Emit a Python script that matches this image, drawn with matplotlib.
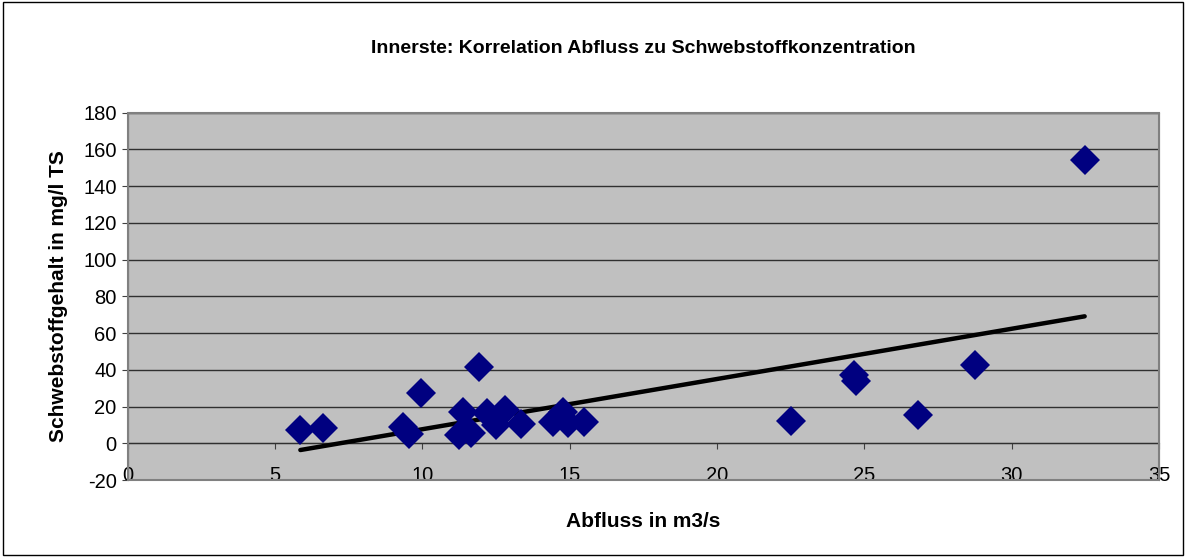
import numpy as np
import matplotlib
matplotlib.use("Agg")
import matplotlib.pyplot as plt
from matplotlib.patches import Rectangle

plt.rcParams['font.family'] = ['Liberation Sans', 'DejaVu Sans']
plt.rcParams['axes.unicode_minus'] = False

# Abfluss (m3/s) und Schwebstoffgehalt (mg/l TS)
abfluss = [5.86, 6.63, 9.35, 9.55, 9.94, 11.92, 11.38, 11.23, 11.66, 12.19, 12.5, 12.79,
           13.36, 14.43, 14.77, 14.94, 15.5, 22.5, 24.65, 24.73, 26.83, 28.75, 32.48]
schwebstoff = [7.2, 8.1, 9.0, 5.0, 27.5, 41.6, 17.2, 4.5, 5.4, 16.3, 9.9, 18.0,
               10.3, 11.4, 17.2, 10.8, 11.4, 12.1, 37.4, 33.8, 15.3, 42.4, 154.1]
xticks = [0, 5, 10, 15, 20, 25, 30, 35]
yticks = [-20, 0, 20, 40, 60, 80, 100, 120, 140, 160, 180]

fig = plt.figure(figsize=(11.88, 5.57), dpi=100)
ax = fig.add_axes([0.1075, 0.1382, 0.868, 0.6595])
ax.set_facecolor('#c0c0c0')

# linear trend
x = np.array(abfluss)
y = np.array(schwebstoff)
m, b = np.polyfit(x, y, 1)
xl = np.array([x.min(), x.max()])
ax.plot(xl, m * xl + b, color='black', lw=3.2, solid_capstyle='round', zorder=3)

ax.plot(x, y, linestyle='none', marker='D', ms=15.5, color='#000080', mec='#000080', mew=0, zorder=4)

ax.set_xlim(0, 35)
ax.set_ylim(-20, 180)
ax.set_xticks(xticks)
ax.set_yticks(yticks)
ax.yaxis.grid(True, color='#303030', lw=1)
ax.set_axisbelow(True)

for s in ['top', 'right']:
    ax.spines[s].set_color('#808080')
ax.spines['left'].set_color('#404040')
ax.spines['bottom'].set_position(('data', 0))
ax.spines['bottom'].set_color('#303030')
ax.add_patch(Rectangle((0, 0), 1, 1, transform=ax.transAxes, fill=False,
                       edgecolor='#808080', lw=1.5, clip_on=False, zorder=5))

ax.tick_params(axis='y', direction='out', length=4, labelsize=14.5, colors='#404040', labelcolor='black', pad=4)
ax.tick_params(axis='x', direction='out', length=4, labelsize=14.5, colors='#404040', labelcolor='black', pad=12)

ax.set_title('Innerste: Korrelation Abfluss zu Schwebstoffkonzentration',
             fontsize=14, fontweight='bold', pad=43)
ax.set_xlabel('Abfluss in m3/s', fontsize=15, fontweight='bold', labelpad=20)
ax.set_ylabel('Schwebstoffgehalt in mg/l TS', fontsize=15, fontweight='bold', labelpad=11)

fig.add_artist(Rectangle((3 / 1188, 2 / 557), 1180 / 1188, 553 / 557, transform=fig.transFigure,
                         fill=False, edgecolor='black', lw=1))

fig.savefig('out.png', dpi=100)
